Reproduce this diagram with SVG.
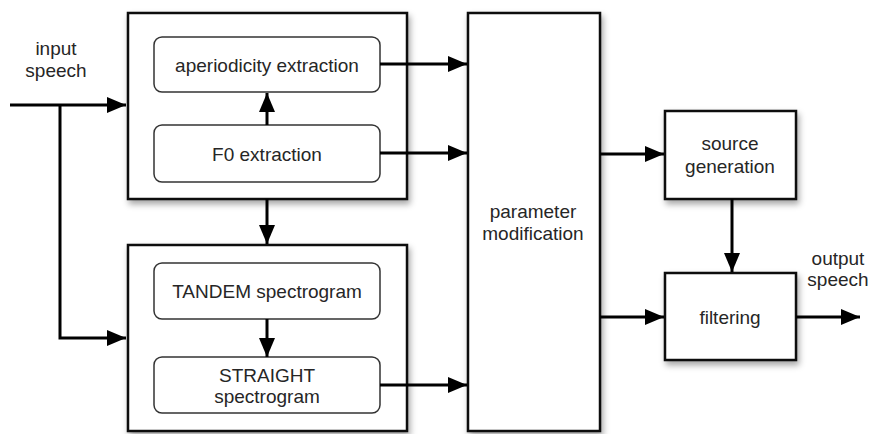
<svg xmlns="http://www.w3.org/2000/svg" width="874" height="434" viewBox="0 0 874 434">
<style>
.outer{fill:#fff;stroke:#111;stroke-width:2.5;filter:url(#sh)}
.inner{fill:#fff;stroke:#333;stroke-width:1.5}
.t{font-family:"Liberation Sans",Arial,sans-serif;font-size:19px;fill:#262626;text-anchor:middle}
.c{fill:none;stroke:#000;stroke-width:3}
</style>
<defs>
<filter id="sh" x="-10%" y="-10%" width="130%" height="130%">
<feDropShadow dx="2" dy="4" stdDeviation="3" flood-color="#000" flood-opacity="0.35"/>
</filter>
<marker id="ah" markerUnits="userSpaceOnUse" markerWidth="20" markerHeight="16" refX="19" refY="8" orient="auto">
<path d="M0,0 L19,8 L0,16 Z" fill="#000"/>
</marker>
</defs>
<rect x="0" y="0" width="874" height="434" fill="#fff"/>
<text class="t" x="56" y="55">input</text>
<text class="t" x="56" y="77">speech</text>
<text class="t" x="838" y="265">output</text>
<text class="t" x="838" y="286">speech</text>
<g id="top-box">
<rect class="outer" x="128" y="13" width="279" height="186"/>
</g>
<g id="aperiodicity">
<rect class="inner" x="154" y="37" width="226" height="55" rx="8"/>
<text class="t" x="267" y="72">aperiodicity extraction</text>
</g>
<g id="f0">
<rect class="inner" x="154" y="125" width="226" height="57" rx="8"/>
<text class="t" x="267" y="161">F0 extraction</text>
</g>
<g id="bottom-box">
<rect class="outer" x="128" y="245" width="279" height="186"/>
</g>
<g id="tandem">
<rect class="inner" x="154" y="263" width="226" height="56" rx="8"/>
<text class="t" x="267" y="298">TANDEM spectrogram</text>
</g>
<g id="straight">
<rect class="inner" x="154" y="357" width="226" height="56" rx="8"/>
<text class="t" x="267" y="382">STRAIGHT</text>
<text class="t" x="267" y="403">spectrogram</text>
</g>
<g id="param">
<rect class="outer" x="468" y="13" width="132" height="418"/>
<text class="t" x="533" y="218">parameter</text>
<text class="t" x="533" y="240">modification</text>
</g>
<g id="source">
<rect class="outer" x="665" y="111" width="131" height="88"/>
<text class="t" x="730" y="150">source</text>
<text class="t" x="730" y="173">generation</text>
</g>
<g id="filtering">
<rect class="outer" x="665" y="273" width="131" height="87"/>
<text class="t" x="730" y="324">filtering</text>
</g>
<g id="connectors">
<path class="c" d="M10,105 H126" marker-end="url(#ah)"/>
<path class="c" d="M60,105 V338 H126" marker-end="url(#ah)"/>
<path class="c" d="M267,125 V93" marker-end="url(#ah)"/>
<path class="c" d="M267,199 V244" marker-end="url(#ah)"/>
<path class="c" d="M267,319 V357" marker-end="url(#ah)"/>
<path class="c" d="M380,64 H467" marker-end="url(#ah)"/>
<path class="c" d="M380,153 H467" marker-end="url(#ah)"/>
<path class="c" d="M380,385 H467" marker-end="url(#ah)"/>
<path class="c" d="M600,154 H664" marker-end="url(#ah)"/>
<path class="c" d="M600,317 H664" marker-end="url(#ah)"/>
<path class="c" d="M732,199 V272" marker-end="url(#ah)"/>
<path class="c" d="M796,317 H860" marker-end="url(#ah)"/>
</g>
</svg>
